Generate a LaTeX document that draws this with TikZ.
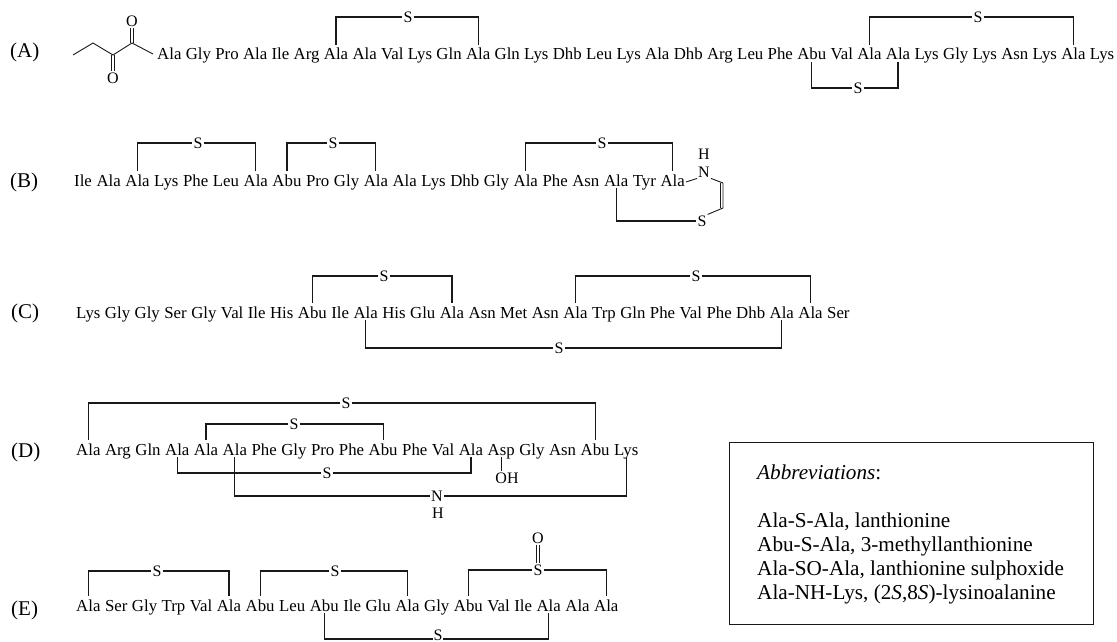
\documentclass[tikz,border=0pt]{standalone}
\usepackage{fontspec}
\setmainfont{Liberation Serif}
\newcommand{\residues}[5]{% prefix, x, y, gap, list
  \foreach \r [count=\i] in {#5} {
    \ifnum\i=1
      \node[res,anchor=base west] (#1\i) at (#2,#3) {\r};
    \else
      \pgfmathtruncatemacro{\j}{\i-1}
      \node[res,anchor=base west] (#1\i) at ([xshift=#4pt]#1\j.base east) {\r};
    \fi
  }
}
\tikzset{
  x=1pt,y=-1pt,
  res/.style={inner sep=0pt,text height=15pt,text depth=2pt,font=\fontsize{16.8}{18}\selectfont},
  atom/.style={inner sep=1pt,fill=white,font=\fontsize{16}{18}\selectfont},
  lab/.style={inner sep=0pt,anchor=west,font=\fontsize{21}{23}\selectfont},
  bond/.style={line width=1.2pt,black!90},
  thinbond/.style={line width=0.9pt,black!90},
  abbr/.style={inner sep=0pt,anchor=base west,font=\fontsize{21.2}{24}\selectfont},
}
\begin{document}
\begin{tikzpicture}
\useasboundingbox (0,0) rectangle (1117,642);
% labels
\node[lab] (LA) at (10,52) {(A)};
\node[lab] (LB) at (10,182) {(B)};
\node[lab] (LC) at (11,313) {(C)};
\node[lab] (LD) at (11,452) {(D)};
\node[lab] (LE) at (11,610) {(E)};
% sequences
\residues{a}{157}{60}{3.95}{Ala,Gly,Pro,Ala,Ile,Arg,Ala,Ala,Val,Lys,Gln,Ala,Gln,Lys,Dhb,Leu,Lys,Ala,Dhb,Arg,Leu,Phe,Abu,Val,Ala,Ala,Lys,Gly,Lys,Asn,Lys,Ala,Lys}
\residues{b}{74}{186}{4.2}{Ile,Ala,Ala,Lys,Phe,Leu,Ala,Abu,Pro,Gly,Ala,Ala,Lys,Dhb,Gly,Ala,Phe,Asn,Ala,Tyr,Ala}
\residues{c}{76}{318}{4.1}{Lys,Gly,Gly,Ser,Gly,Val,Ile,His,Abu,Ile,Ala,His,Glu,Ala,Asn,Met,Asn,Ala,Trp,Gln,Phe,Val,Phe,Dhb,Ala,Ala,Ser}
\residues{d}{76}{455}{4.15}{Ala,Arg,Gln,Ala,Ala,Ala,Phe,Gly,Pro,Phe,Abu,Phe,Val,Ala,Asp,Gly,Asn,Abu,Lys}
\residues{e}{76}{611}{4.15}{Ala,Ser,Gly,Trp,Val,Ala,Abu,Leu,Abu,Ile,Glu,Ala,Gly,Abu,Val,Ile,Ala,Ala,Ala}
% Row A
\node[atom] (aS1) at (408,17) {S};
\draw[bond] (a7.north) |- (aS1.west); \draw[bond] (aS1.east) -| (a12.north);
\node[atom] (aS2) at (978,17) {S};
\draw[bond] (a25.north) |- (aS2.west); \draw[bond] (aS2.east) -| (a32.north);
\node[atom] (aS3) at (858,88) {S};
\draw[bond] (a23.south) |- (aS3.west); \draw[bond] (aS3.east) -| (a26.south);
% ketone
\coordinate (k0) at (73,55);
\coordinate (k1) at (93,43);
\coordinate (k2) at (113,55);
\coordinate (k3) at (132,43);
\coordinate (k4) at (153,54);
\node[atom,fill=none] (kO1) at (132,21) {O};
\node[atom,fill=none] (kO2) at (113,78) {O};
\draw[thinbond] (k0)--(k1)--(k2)--(k3)--(k4);
\draw[thinbond] ([xshift=-1.3pt]k3) -- ([xshift=-1.3pt]kO1.south);
\draw[thinbond] ([xshift=1.3pt]k3) -- ([xshift=1.3pt]kO1.south);
\draw[thinbond] ([xshift=-1.3pt]k2) -- ([xshift=-1.3pt]kO2.north);
\draw[thinbond] ([xshift=1.3pt]k2) -- ([xshift=1.3pt]kO2.north);
% Row B
\node[atom] (bS1) at (198,143) {S};
\draw[bond] (b3.north) |- (bS1.west); \draw[bond] (bS1.east) -| (b7.north);
\node[atom] (bS2) at (333,143) {S};
\draw[bond] (b8.north) |- (bS2.west); \draw[bond] (bS2.east) -| (b11.north);
\node[atom] (bS3) at (602,143) {S};
\draw[bond] (b16.north) |- (bS3.west); \draw[bond] (bS3.east) -| (b21.north);
\node[atom] (bN) at (704,172) {N};
\node[atom,fill=none] (bH) at (704,154) {H};
\node[atom] (bS4) at (702,221) {S};
\coordinate (bv1) at (723,183);
\coordinate (bv2) at (723,208);
\draw[thinbond] ([shift={(1,-4)}]b21.base east) -- (bN.south west);
\draw[thinbond] (bN.south east) -- (bv1) -- (bv2) -- (bS4.north east);
\draw[thinbond] ([xshift=-2.6pt]bv1) -- ([xshift=-2.6pt]bv2);
\draw[bond] (b19.south) |- (bS4.west);
% Row C
\node[atom] (cS1) at (384,276) {S};
\draw[bond] (c9.north) |- (cS1.west); \draw[bond] (cS1.east) -| (c14.north);
\node[atom] (cS2) at (696,276) {S};
\draw[bond] (c18.north) |- (cS2.west); \draw[bond] (cS2.east) -| (c26.north);
\node[atom] (cS3) at (559,348) {S};
\draw[bond] (c11.south) |- (cS3.west); \draw[bond] (cS3.east) -| (c25.south);
% Row D
\node[atom] (dS1) at (346,403) {S};
\draw[bond] (d1.north) |- (dS1.west); \draw[bond] (dS1.east) -| (d18.north);
\node[atom] (dS2) at (294,424) {S};
\draw[bond] (d5.north) |- (dS2.west); \draw[bond] (dS2.east) -| (d11.north);
\node[atom] (dS3) at (327,473) {S};
\draw[bond] (d4.south) |- (dS3.west); \draw[bond] (dS3.east) -| (d14.south);
\node[atom] (dN) at (437,496) {N};
\node[atom,fill=none] (dH) at (438,513) {H};
\draw[bond] (d6.south) |- (dN.west); \draw[bond] (dN.east) -| (d19.south);
\node[atom,fill=none] (dOH) at (507,478) {OH};
\draw[bond] (d15.south) -- (d15.south |- dOH.north);
% Row E
\node[atom] (eS1) at (157,571) {S};
\draw[bond] (e1.north) |- (eS1.west); \draw[bond] (eS1.east) -| (e6.north);
\node[atom] (eS2) at (335,571) {S};
\draw[bond] (e7.north) |- (eS2.west); \draw[bond] (eS2.east) -| (e12.north);
\node[atom] (eS3) at (538,570) {S};
\draw[bond] (e14.north) |- (eS3.west); \draw[bond] (eS3.east) -| (e19.north);
\node[atom,fill=none] (eO) at (538,538) {O};
\draw[thinbond] ([xshift=-1.3pt]eO.south) -- ([xshift=-1.3pt]eS3.north);
\draw[thinbond] ([xshift=1.3pt]eO.south) -- ([xshift=1.3pt]eS3.north);
\node[atom,inner sep=0.5pt] (eS4) at (438,635.5) {S};
\draw[bond] (e9.south) |- (eS4.west |- 0,639); \draw[bond] (eS4.east |- 0,639) -| (e17.south);
% Abbreviations box
\node[draw,line width=1.2pt,black!90,minimum width=364pt,minimum height=182pt,anchor=north west,inner sep=0pt] (box) at (729,442) {};
\node[abbr] (t0) at (757,479) {\textit{Abbreviations}:};
\node[abbr] (t1) at (757,527) {Ala-S-Ala, lanthionine};
\node[abbr] (t2) at (757,551) {Abu-S-Ala, 3-methyllanthionine};
\node[abbr] (t3) at (757,575) {Ala-SO-Ala, lanthionine sulphoxide};
\node[abbr] (t4) at (757,599) {Ala-NH-Lys, (2\textit{S},8\textit{S})-lysinoalanine};
\end{tikzpicture}
\end{document}
